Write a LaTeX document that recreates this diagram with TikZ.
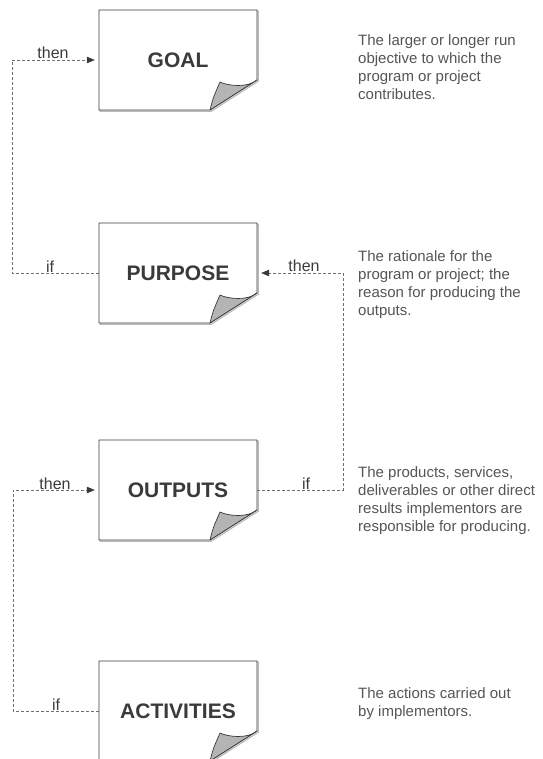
\documentclass[tikz,border=0pt]{standalone}
\usepackage{fontspec}
\setmainfont{Liberation Sans}
\usetikzlibrary{arrows.meta,backgrounds}

\definecolor{ink}{HTML}{3A3A3A}
\definecolor{note}{HTML}{555555}
\definecolor{rule}{HTML}{707070}
\definecolor{curl}{HTML}{B4B4B4}

\tikzset{
  docbox/.style={minimum width=158pt, minimum height=100pt, inner sep=0pt,
    font=\fontsize{21}{24}\selectfont\bfseries, text=ink},
  conn/.style={draw=rule, line width=0.6pt, dash pattern=on 3pt off 2pt},
  tip/.style={-{Triangle[length=8pt,width=6.5pt,color=ink]}},
  lbl/.style={font=\fontsize{16}{18}\selectfont, text=ink, anchor=base,
    inner sep=0pt, outer sep=0pt},
  desc/.style={font=\fontsize{15}{18}\selectfont, text=note, align=left,
    anchor=north west, inner sep=0pt},
}

% sheet with a curled lower-right corner around a named node
\newcommand\docsheet[1]{%
  \begin{scope}[shift={(#1.center)}]
    \draw[gray!55, line width=1.2pt, shift={(1.2,1.2)}]
      (-79,-50) -- (79,-50) -- (79,20) -- (32,50) -- (-79,50) -- cycle;
    \filldraw[fill=white, draw=ink, line width=0.8pt, line join=round]
      (-79,-50) -- (79,-50) -- (79,20) -- (32,50) -- (-79,50) -- cycle;
    \filldraw[fill=curl, draw=ink, line width=0.7pt, line join=round]
      (32,50) .. controls (35,38) .. (42,22)
      .. controls (50,26) and (70,28) .. (79,20) -- cycle;
  \end{scope}}

\begin{document}
\begin{tikzpicture}[x=1pt, y=-1pt]
  \useasboundingbox (0,0) rectangle (542,759);
  \clip (0,0) rectangle (542,759);

  % the four levels
  \node[docbox] (goal)       at (178,60)  {GOAL};
  \node[docbox] (purpose)    at (178,273) {PURPOSE};
  \node[docbox] (outputs)    at (178,490) {OUTPUTS};
  \node[docbox] (activities) at (178,711) {ACTIVITIES};

  \begin{scope}[on background layer]
    \docsheet{goal}
    \docsheet{purpose}
    \docsheet{outputs}
    \docsheet{activities}
  \end{scope}

  % corners of the if/then loops
  \coordinate (k1) at (12,273);
  \coordinate (k3) at (343,490);
  \coordinate (k4) at (13,711);

  \draw[conn, tip] (purpose.west) -- (k1) |- ([xshift=-4pt]goal.west);
  \draw[conn, tip] (outputs.east) -- (k3) |- ([xshift=4pt]purpose.east);
  \draw[conn, tip] (activities.west) -- (k4) |- ([xshift=-4pt]outputs.west);

  \node[lbl] (then1) at (53,59)  {then};
  \node[lbl] (if1)   at (50,272) {if};
  \node[lbl] (then2) at (304,271) {then};
  \node[lbl] (if2)   at (306,489) {if};
  \node[lbl] (then3) at (55,489) {then};
  \node[lbl] (if3)   at (56,710) {if};

  % explanations
  \node[desc] (dgoal) at (358,34)
    {The larger or longer run\\objective to which the\\program or project\\contributes.};
  \node[desc] (dpurpose) at (358,250)
    {The rationale for the\\program or project; the\\reason for producing the\\outputs.};
  \node[desc] (doutputs) at (358,466)
    {The products, services,\\deliverables or other direct\\results implementors are\\responsible for producing.};
  \node[desc] (dactivities) at (358,687)
    {The actions carried out\\by implementors.};
\end{tikzpicture}
\end{document}
